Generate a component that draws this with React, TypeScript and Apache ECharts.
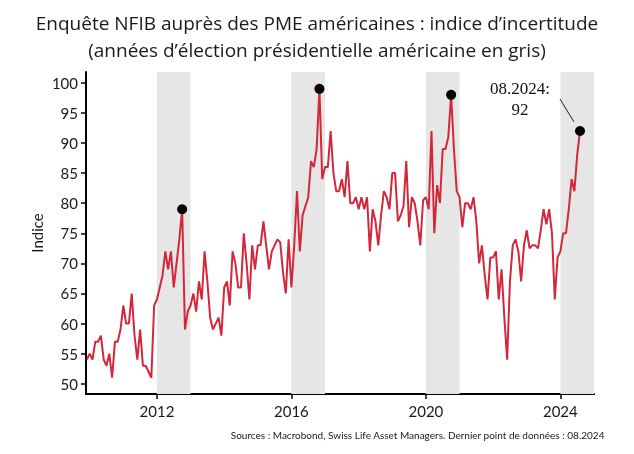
import React, { useEffect, useRef } from "react";
import * as echarts from "echarts";

// First observation: December 2009, monthly through August 2024
const startYear = 2009;
const startMonth = 12;

const uncertaintyIndex = [
  54, 55, 54, 57, 57, 58, 54, 53, 55, 51,
  57, 57, 59, 63, 60, 60, 65, 58, 54, 59,
  53, 53, 52, 51, 63, 64, 66, 68, 72, 69,
  72, 66, 70, 74, 79, 59, 62, 63, 65, 62,
  67, 64, 72, 67, 61, 59, 60, 61, 58, 66,
  67, 63, 72, 70, 66, 66, 75, 70, 64, 73,
  69, 73, 73, 77, 73, 69, 72, 73, 74, 73.5,
  68.5, 65, 74, 66, 73, 82, 72, 78, 79.5, 81,
  87, 86, 89, 99, 84, 86, 86, 92, 85, 82,
  82, 84, 81, 87, 80, 80, 81, 79, 81, 79,
  81, 72, 79, 77, 73, 78, 82, 81, 79, 85,
  85, 77, 78, 79.5, 87, 76, 81, 80, 77, 73,
  80.5, 81, 79, 92, 75, 83, 80, 89, 89, 91,
  98, 89, 82, 81, 76, 80, 80, 79, 81, 77,
  70, 73, 68, 64, 71, 71, 72, 64, 69, 61,
  54, 67, 73, 74, 72, 67, 73, 75.5, 72.5, 73,
  73, 72.5, 75.5, 79, 76.5, 79, 75, 64, 71, 72,
  75, 75, 79, 84, 82, 88, 92,
];

const highlightedIdx = [34, 83, 130, 176];
const electionYears = [2012, 2016, 2020, 2024];
const xTickYears = [2012, 2016, 2020, 2024];
const yTickValues = [50, 55, 60, 65, 70, 75, 80, 85, 90, 95, 100];

const titleLines = [
  "Enquête NFIB auprès des PME américaines : indice d’incertitude",
  "(années d’élection présidentielle américaine en gris)",
];
const yAxisName = "Indice";
const sourceText =
  "Sources : Macrobond, Swiss Life Asset Managers. Dernier point de données : 08.2024";
const lastLabelLines = ["08.2024:", "92"];

const TITLE_FONT = "'Open Sans', 'Noto Sans', sans-serif";
const FONT = "Lato, 'Noto Sans', sans-serif";

export default function App() {
  const ref = useRef<HTMLDivElement>(null);

  useEffect(() => {
    if (!ref.current) return;
    const chart = echarts.init(ref.current, undefined, { renderer: "svg" });

    const xOf = (i: number) => startYear + (startMonth - 1 + i) / 12;
    const lineData = uncertaintyIndex.map((v, i) => [xOf(i), v]);
    const peakData = highlightedIdx.map((i) => [xOf(i), uncertaintyIndex[i]]);

    chart.setOption({
      animation: false,
      title: {
        text: titleLines.join("\n"),
        left: "center",
        top: 4,
        textStyle: {
          fontFamily: TITLE_FONT,
          fontSize: 19,
          fontWeight: "normal",
          color: "#1a1a1a",
          lineHeight: 27,
        },
      },
      grid: { left: 86, right: 40, top: 72, bottom: 60 },
      xAxis: {
        type: "value",
        min: 2009.89,
        max: 2025.0,
        splitLine: { show: false },
        axisLine: { show: true, lineStyle: { color: "#000", width: 2 } },
        axisTick: {
          show: true,
          customValues: xTickYears,
          length: 5,
          lineStyle: { color: "#000", width: 1.5 },
        },
        axisLabel: {
          customValues: xTickYears,
          formatter: (v: number) => String(Math.round(v)),
          fontFamily: FONT,
          fontSize: 15,
          color: "#1a1a1a",
          margin: 9,
        },
      },
      yAxis: {
        type: "value",
        min: 48.3,
        max: 101.8,
        splitLine: { show: false },
        axisLine: { show: true, lineStyle: { color: "#000", width: 2 } },
        axisTick: {
          show: true,
          customValues: yTickValues,
          length: 5,
          lineStyle: { color: "#000", width: 1.5 },
        },
        axisLabel: {
          customValues: yTickValues,
          fontFamily: FONT,
          fontSize: 15,
          color: "#1a1a1a",
          margin: 8,
        },
      },
      series: [
        {
          type: "line",
          data: lineData,
          showSymbol: false,
          symbol: "none",
          lineStyle: { color: "#d3283b", width: 2 },
          itemStyle: { color: "#d3283b" },
          z: 3,
          markArea: {
            silent: true,
            itemStyle: { color: "#e6e6e6" },
            data: electionYears.map((y) => [{ xAxis: y }, { xAxis: y + 1 }]),
          },
        },
        {
          type: "scatter",
          data: peakData,
          symbolSize: 10,
          itemStyle: { color: "#000", opacity: 1 },
          z: 4,
        },
      ],
    });

    const lastIdx = uncertaintyIndex.length - 1;
    const p = chart.convertToPixel({ gridIndex: 0 }, [
      xOf(lastIdx),
      uncertaintyIndex[lastIdx],
    ]) as number[];

    chart.setOption({
      graphic: [
        {
          id: "yname",
          type: "text",
          x: 37,
          y: 233,
          rotation: Math.PI / 2,
          z: 100,
          style: {
            text: yAxisName,
            fontFamily: FONT,
            fontSize: 15,
            fill: "#1a1a1a",
            textAlign: "center",
            textVerticalAlign: "middle",
          },
        },
        {
          id: "source",
          type: "text",
          right: 29,
          top: 430,
          z: 100,
          style: {
            text: sourceText,
            fontFamily: FONT,
            fontSize: 10,
            fill: "#1a1a1a",
          },
        },
        {
          id: "lastLabel",
          type: "text",
          x: p[0] - 60,
          y: p[1] - 53,
          z: 100,
          style: {
            text: lastLabelLines.join("\n"),
            fontFamily: "'Liberation Serif', 'DejaVu Serif', serif",
            fontSize: 17,
            lineHeight: 21,
            fill: "#111",
            textAlign: "center",
            textVerticalAlign: "top",
          },
        },
        {
          id: "leader",
          type: "line",
          z: 100,
          shape: { x1: p[0] - 20, y1: p[1] - 32, x2: p[0] - 6, y2: p[1] - 9 },
          style: { stroke: "#222", lineWidth: 1 },
        },
      ],
    });

    return () => chart.dispose();
  }, []);

  return (
    <div
      ref={ref}
      style={{ position: "fixed", left: 0, top: 0, width: 634, height: 454 }}
    />
  );
}
